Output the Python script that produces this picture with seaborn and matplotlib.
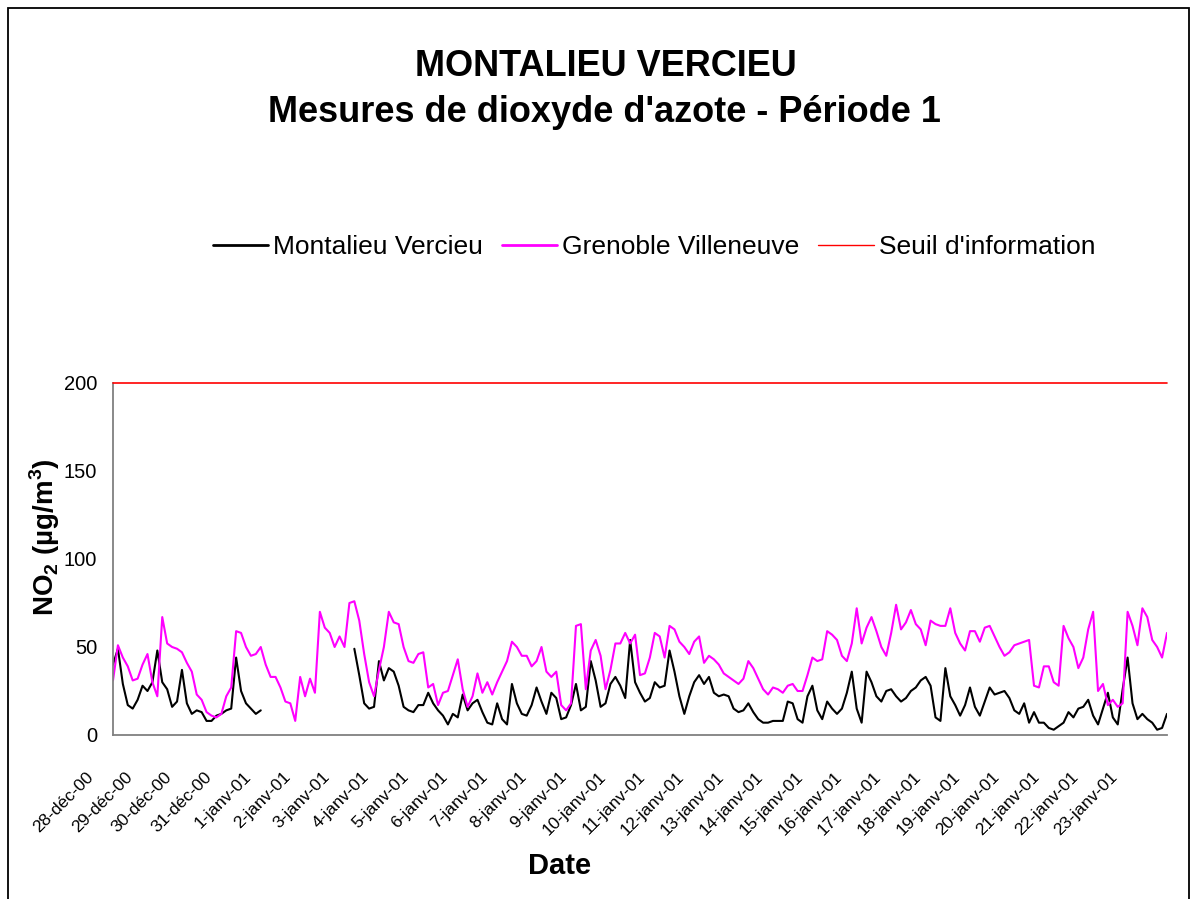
import numpy as np
import pandas as pd
import matplotlib
matplotlib.use("Agg")
import matplotlib.pyplot as plt
import matplotlib.transforms as mtransforms
from matplotlib.lines import Line2D
from matplotlib.patches import Rectangle
import seaborn as sns

nan = np.nan

# Mesures de NO2 (µg/m3), pas de 3 h, du 28-déc-00 0h au 24-janv-01 18h
debut = "2000-12-28"
pas = "3h"

montalieu = [
    40, 49, 29, 17, 15, 20, 28, 25,    # 28-déc
    30, 48, 30, 26, 16, 19, 37, 18,    # 29-déc
    12, 14, 13, 8, 8, 11, 12, 14,      # 30-déc
    15, 44, 25, 18, 15, 12, 14, nan,   # 31-déc
    nan, nan, nan, nan, nan, nan, nan, nan,  # 1-janv
    nan, nan, nan, nan, nan, nan, nan, nan,  # 2-janv
    nan, 49, 34, 18, 15, 16, 42, 31,   # 3-janv
    38, 36, 28, 16, 14, 13, 17, 17,    # 4-janv
    24, 18, 14, 11, 6, 12, 10, 23,     # 5-janv
    14, 18, 20, 13, 7, 6, 18, 9,       # 6-janv
    6, 29, 18, 12, 11, 17, 27, 19,     # 7-janv
    12, 24, 21, 9, 10, 17, 29, 14,     # 8-janv
    16, 42, 31, 16, 18, 29, 33, 28,    # 9-janv
    21, 54, 30, 24, 19, 21, 30, 27,    # 10-janv
    28, 48, 36, 22, 12, 22, 30, 34,    # 11-janv
    29, 33, 24, 22, 23, 22, 15, 13,    # 12-janv
    14, 18, 13, 9, 7, 7, 8, 8,         # 13-janv
    8, 19, 18, 9, 7, 22, 28, 14,       # 14-janv
    9, 19, 15, 12, 15, 24, 36, 15,     # 15-janv
    7, 36, 30, 22, 19, 25, 26, 22,     # 16-janv
    19, 21, 25, 27, 31, 33, 28, 10,    # 17-janv
    8, 38, 22, 17, 11, 17, 27, 16,     # 18-janv
    11, 19, 27, 23, 24, 25, 21, 14,    # 19-janv
    12, 18, 7, 13, 7, 7, 4, 3,         # 20-janv
    5, 7, 13, 10, 15, 16, 20, 11,      # 21-janv
    6, 15, 24, 10, 6, 26, 44, 18,      # 22-janv
    9, 12, 9, 7, 3, 4, 12,             # 23-janv
]

grenoble = [
    31, 51, 44, 39, 31, 32, 40, 46,
    30, 22, 67, 52, 50, 49, 47, 41,
    36, 23, 20, 13, 11, 10, 12, 22,
    27, 59, 58, 50, 45, 46, 50, 40,
    33, 33, 27, 19, 18, 8, 33, 22,
    32, 24, 70, 61, 58, 50, 56, 50,
    75, 76, 65, 46, 30, 22, 37, 50,
    70, 64, 63, 50, 42, 41, 46, 47,
    27, 29, 17, 24, 25, 34, 43, 26,
    16, 22, 35, 24, 30, 23, 30, 36,
    42, 53, 50, 45, 45, 39, 42, 50,
    36, 33, 36, 17, 14, 18, 62, 63,
    26, 48, 54, 45, 26, 37, 52, 52,
    58, 52, 57, 34, 35, 44, 58, 56,
    44, 62, 60, 53, 50, 46, 53, 56,
    41, 45, 43, 40, 35, 33, 31, 29,
    32, 42, 38, 32, 26, 23, 27, 26,
    24, 28, 29, 25, 25, 34, 44, 42,
    43, 59, 57, 54, 45, 42, 52, 72,
    52, 61, 67, 59, 50, 45, 58, 74,
    60, 64, 71, 63, 60, 51, 65, 63,
    62, 62, 72, 58, 52, 48, 59, 59,
    53, 61, 62, 56, 50, 45, 47, 51,
    52, 53, 54, 28, 27, 39, 39, 30,
    28, 62, 55, 50, 38, 44, 60, 70,
    25, 29, 17, 20, 16, 18, 70, 62,
    51, 72, 67, 54, 50, 44, 58,
]

seuil = 200

jours = [
    "28-déc-00", "29-déc-00", "30-déc-00", "31-déc-00",
    "1-janv-01", "2-janv-01", "3-janv-01", "4-janv-01", "5-janv-01",
    "6-janv-01", "7-janv-01", "8-janv-01", "9-janv-01", "10-janv-01",
    "11-janv-01", "12-janv-01", "13-janv-01", "14-janv-01", "15-janv-01",
    "16-janv-01", "17-janv-01", "18-janv-01", "19-janv-01", "20-janv-01",
    "21-janv-01", "22-janv-01", "23-janv-01",
]

stations = ["Montalieu Vercieu", "Grenoble Villeneuve"]
couleurs = {"Montalieu Vercieu": "black", "Grenoble Villeneuve": "#FF00FF"}

# tableau long, un segment par portion continue (les trous cassent la ligne)
dates = pd.date_range(debut, periods=len(montalieu), freq=pas)
df = pd.DataFrame({"date": dates, stations[0]: montalieu, stations[1]: grenoble})
df = df.melt(id_vars="date", var_name="station", value_name="no2")
df["segment"] = df.groupby("station")["no2"].transform(lambda s: s.isna().cumsum())
df = df.dropna(subset=["no2"])

sns.set_theme(style="white")
plt.rcParams["font.family"] = ["Liberation Sans", "DejaVu Sans"]
plt.rcParams["text.color"] = "black"
plt.rcParams["mathtext.fontset"] = "custom"
plt.rcParams["mathtext.rm"] = "Liberation Sans:bold"
plt.rcParams["mathtext.bf"] = "Liberation Sans:bold"

W, H = 1191, 899
fig = plt.figure(figsize=(W / 100, H / 100), dpi=100)
fig.patch.set_facecolor("white")
ax = fig.add_axes([113 / W, 1 - 735 / H, 1054 / W, 352 / H])

sns.lineplot(data=df, x="date", y="no2", hue="station", hue_order=stations,
             units="segment", estimator=None, palette=couleurs,
             linewidth=1.5, legend=False, ax=ax)
# seuil d'information (ligne rouge sur toute la largeur)
ax.axhline(seuil, color="#FF0000", lw=1.2, clip_on=False, zorder=5)

ax.set_xlim(dates[0], dates[-1])
ax.set_ylim(0, 200)
ax.set_yticks([0, 50, 100, 150, 200])
ax.set_xticks(pd.date_range(debut, periods=len(jours), freq="D"))
ax.set_xticklabels(jours)
ax.set_xlabel("")
ax.set_ylabel("")

for side in ["top", "right"]:
    ax.spines[side].set_visible(False)
for side in ["left", "bottom"]:
    ax.spines[side].set_color("#808080")
    ax.spines[side].set_linewidth(1.3)

ax.tick_params(axis="x", direction="inout", length=7.5, width=1, color="#808080",
               pad=24.5, labelsize=12.5, labelcolor="black")
ax.tick_params(axis="y", direction="inout", length=8.6, width=1, color="#808080",
               pad=7, labelsize=14.5, labelcolor="black")
decale = mtransforms.ScaledTranslation(-0.22, 0, fig.dpi_scale_trans)
for lab in ax.get_xticklabels():
    lab.set_rotation(45)
    lab.set_ha("right")
    lab.set_va("center")
    lab.set_rotation_mode("anchor")
    lab.set_transform(lab.get_transform() + decale)

# titres et libellés
fig.text(606 / W, 1 - 67 / H, "MONTALIEU VERCIEU", ha="center", va="center",
         fontsize=26, fontweight="bold", color="black")
fig.text(604 / W, 1 - 113 / H, "Mesures de dioxyde d'azote - Période 1",
         ha="center", va="center", fontsize=26, fontweight="bold", color="black")
fig.text(45 / W, 1 - 537 / H, r"NO$_\mathregular{2}$ (µg/m$^\mathregular{3}$)",
         rotation=90, ha="center", va="center", fontsize=20, fontweight="bold",
         color="black")
fig.text(560 / W, 1 - 866 / H, "Date", ha="center", va="center",
         fontsize=21, fontweight="bold", color="black")

handles = [
    Line2D([], [], color="black", lw=2),
    Line2D([], [], color="#FF00FF", lw=2),
    Line2D([], [], color="#FF0000", lw=1),
]
leg = fig.legend(handles, stations + ["Seuil d'information"], loc="center",
                 bbox_to_anchor=(654 / W, 1 - 247 / H), ncol=3, frameon=False,
                 fontsize=19, handlelength=2.1, handletextpad=0.2,
                 columnspacing=0.7, borderpad=0, borderaxespad=0)
for txt in leg.get_texts():
    txt.set_color("black")

# cadre de la zone graphique
fig.add_artist(Rectangle((8 / W, -0.05), (1189 - 8) / W, 1.05 - 8 / H,
                         transform=fig.transFigure, fill=False,
                         ec="black", lw=1.3))

fig.savefig("out.png", dpi=100)
